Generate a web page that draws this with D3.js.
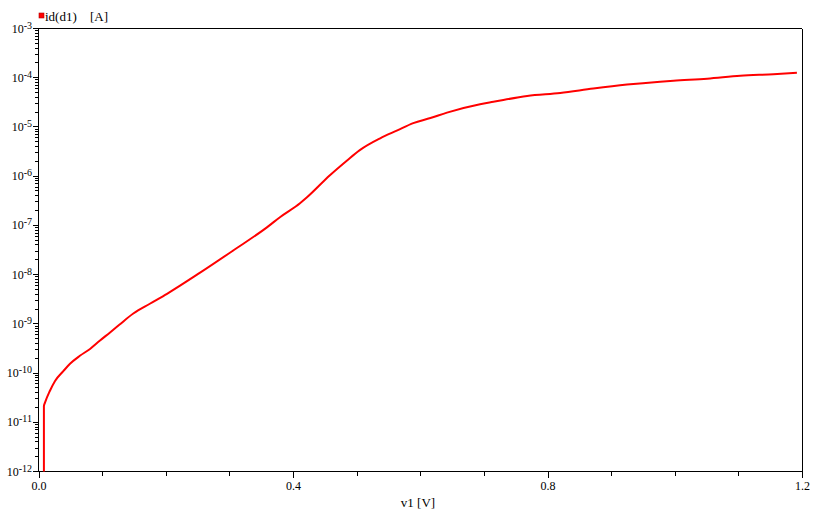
<!DOCTYPE html>
<html>
<head>
<meta charset="utf-8">
<script src="https://cdn.jsdelivr.net/npm/d3@7"></script>
<style>
  html, body { margin: 0; padding: 0; background: #fff; }
  svg { display: block; }
  text { font-family: "Liberation Serif", "Times New Roman", serif; fill: #000; }
</style>
</head>
<body>
<svg id="chart" width="820" height="514"></svg>
<script>
// ---- data ----
const seriesName = "id(d1)";
const seriesUnit = "[A]";
const xLabel = "v1 [V]";
const voltage = [0.0085, 0.0085, 0.0102, 0.018, 0.026, 0.039, 0.0495, 0.065, 0.081, 0.0967, 0.112, 0.127, 0.149, 0.175, 0.202, 0.254, 0.306, 0.359, 0.380, 0.411, 0.422, 0.458, 0.485, 0.505, 0.537, 0.564, 0.589, 0.616, 0.642, 0.694, 0.715, 0.768, 0.820, 0.872, 0.925, 0.977, 0.998, 1.051, 1.103, 1.155, 1.192];
const current = [1e-14, 2.09e-11, 2.45e-11, 4.27e-11, 6.76e-11, 1.07e-10, 1.51e-10, 2.19e-10, 3.02e-10, 4.47e-10, 6.46e-10, 9.33e-10, 1.58e-9, 2.5e-9, 3.98e-9, 1.07e-8, 3.02e-8, 8.91e-8, 1.45e-7, 2.75e-7, 3.63e-7, 1.02e-6, 2.04e-6, 3.31e-6, 5.75e-6, 8.32e-6, 1.17e-5, 1.48e-5, 1.91e-5, 2.82e-5, 3.16e-5, 4.17e-5, 4.79e-5, 5.89e-5, 7.08e-5, 8.13e-5, 8.51e-5, 9.33e-5, 1.07e-4, 1.15e-4, 1.23e-4];
const xMinorTicks = [0, 0.1, 0.2, 0.3, 0.4, 0.5, 0.6, 0.7, 0.8, 0.9, 1.0, 1.1, 1.2];
const xMajorTicks = [0, 0.4, 0.8, 1.2];
const xTickLabels = ["0.0", "0.4", "0.8", "1.2"];
const yExponents = [-3, -4, -5, -6, -7, -8, -9, -10, -11, -12];

// ---- layout ----
const svg = d3.select("#chart");
const x = d3.scaleLinear().domain([0, 1.2]).range([38.5, 802]);
const y = d3.scaleLog().domain([1e-12, 1e-3]).range([471, 28]);
const X0 = x(0), X1 = x(1.2), Y0 = Math.round(y(1e-12)) + 0.5, Y1 = Math.round(y(1e-3)) + 0.5;

svg.append("defs").append("clipPath").attr("id", "clip")
  .append("rect").attr("x", X0).attr("y", Y1).attr("width", X1 - X0).attr("height", Y0 - Y1);

// frame
const frame = svg.append("g").attr("stroke", "#000").attr("stroke-width", 1).attr("shape-rendering", "crispEdges");
frame.append("line").attr("x1", X0).attr("x2", X1).attr("y1", Y1).attr("y2", Y1);
frame.append("line").attr("x1", X1).attr("x2", X1).attr("y1", Y1).attr("y2", Y0);

// x axis
const xAxis = svg.append("g").attr("transform", `translate(0,${Y0})`)
  .call(d3.axisBottom(x).tickValues(xMinorTicks).tickSize(4).tickFormat(""));
xAxis.select(".domain").attr("d", `M${X0},0H${X1}`).attr("shape-rendering", "crispEdges");
xAxis.selectAll(".tick line").attr("shape-rendering", "crispEdges");
const xMaj = svg.append("g").attr("transform", `translate(0,${Y0})`)
  .call(d3.axisBottom(x).tickValues(xMajorTicks).tickSize(6)
    .tickFormat((d, i) => xTickLabels[i]));
xMaj.select(".domain").remove();
xMaj.selectAll(".tick line").attr("shape-rendering", "crispEdges");
xMaj.selectAll(".tick text").attr("font-family", "Liberation Serif").attr("font-size", 12)
  .attr("y", 0).attr("dy", null).attr("transform", "translate(0,18)");

// y axis: minor log ticks
const yMinor = [];
for (let e = -12; e < -3; e++) for (let m = 2; m <= 9; m++) yMinor.push(m * Math.pow(10, e));
const yAxisMinor = svg.append("g").attr("transform", `translate(${X0},0)`)
  .call(d3.axisLeft(y).tickValues(yMinor).tickSize(4).tickFormat(""));
yAxisMinor.select(".domain").attr("d", `M0,${Y1}V${Y0}`).attr("shape-rendering", "crispEdges");
yAxisMinor.selectAll(".tick line").attr("shape-rendering", "crispEdges");
const yAxisMajor = svg.append("g").attr("transform", `translate(${X0},0)`)
  .call(d3.axisLeft(y).tickValues(yExponents.map(e => Math.pow(10, e))).tickSize(6).tickFormat(""));
yAxisMajor.select(".domain").remove();
yAxisMajor.selectAll(".tick line").attr("shape-rendering", "crispEdges");

// y tick labels with superscript
const yLab = svg.append("g").attr("font-size", 12).attr("text-anchor", "end");
yExponents.forEach(e => {
  const t = yLab.append("text").attr("x", 32).attr("y", y(Math.pow(10, e)) + 4.5);
  t.append("tspan").text("10");
  t.append("tspan").attr("font-size", 10).attr("dy", -4).text(String(e));
});

// x label
svg.append("text").attr("x", 418).attr("y", 507).attr("text-anchor", "middle")
  .attr("font-size", 13).text(xLabel);

// legend
svg.append("rect").attr("x", 39).attr("y", 13).attr("width", 5).attr("height", 5)
  .attr("fill", "#ff0000").attr("stroke", "#b00000").attr("stroke-width", 0.6);
svg.append("text").attr("x", 45).attr("y", 21).attr("font-size", 13).text(seriesName);
svg.append("text").attr("x", 90).attr("y", 21).attr("font-size", 13).text(seriesUnit);

// curve
const pts = voltage.map((v, i) => [v, current[i]]);
const line = d3.line().curve(d3.curveMonotoneX)
  .x(d => x(d[0])).y(d => y(Math.max(d[1], 1e-14)));
svg.append("path").datum(pts).attr("clip-path", "url(#clip)")
  .attr("fill", "none").attr("stroke", "#ff0000").attr("stroke-width", 2)
  .attr("stroke-linejoin", "round").attr("d", line);
</script>
</body>
</html>
